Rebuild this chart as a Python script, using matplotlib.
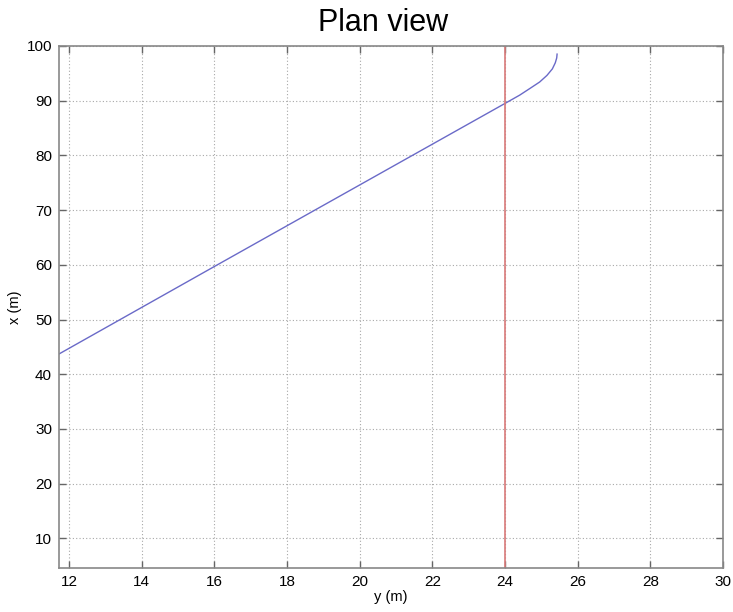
import matplotlib
matplotlib.use('Agg')
import matplotlib.pyplot as plt

# path of the vehicle (y, x) in metres
path_y = [11.72, 16.0, 20.0, 24.0, 24.4, 24.7, 24.95, 25.15, 25.3, 25.38, 25.42, 25.43]
path_x = [43.7, 59.7, 74.6, 89.5, 91.0, 92.3, 93.4, 94.6, 95.8, 96.9, 97.8, 98.5]
# reference line position
ref_y = 24.0

xticks = [12, 14, 16, 18, 20, 22, 24, 26, 28, 30]
yticks = [10, 20, 30, 40, 50, 60, 70, 80, 90, 100]

plt.rcParams['font.family'] = ['Liberation Sans', 'DejaVu Sans']

fig = plt.figure(figsize=(7.33, 6.12), dpi=100)
ax = fig.add_axes([0.0805, 0.072, 0.906, 0.853])

ax.plot(path_y, path_x, color='#6a6ac8', lw=1.0)
ax.axvline(ref_y, color='#d97a7a', lw=1.2)

ax.set_xlim(11.72, 30)
ax.set_ylim(4.6, 100)
ax.set_xticks(xticks)
ax.set_yticks(yticks)
ax.grid(True, linestyle=(0, (1, 2)), color='#a8a8a8', lw=0.8)
ax.tick_params(direction='in', top=True, right=True, length=5, width=1,
               color='#666666', labelsize=11, pad=5)
for s in ax.spines.values():
    s.set_color('#888888')
    s.set_linewidth(1.2)

ax.set_xlabel('y (m)', fontsize=10.5, labelpad=1)
ax.set_ylabel('x (m)', fontsize=10.5, labelpad=3)
fig.text(0.523, 0.962, 'Plan view', fontsize=22, ha='center', va='center')

fig.savefig('out.png', dpi=100)
